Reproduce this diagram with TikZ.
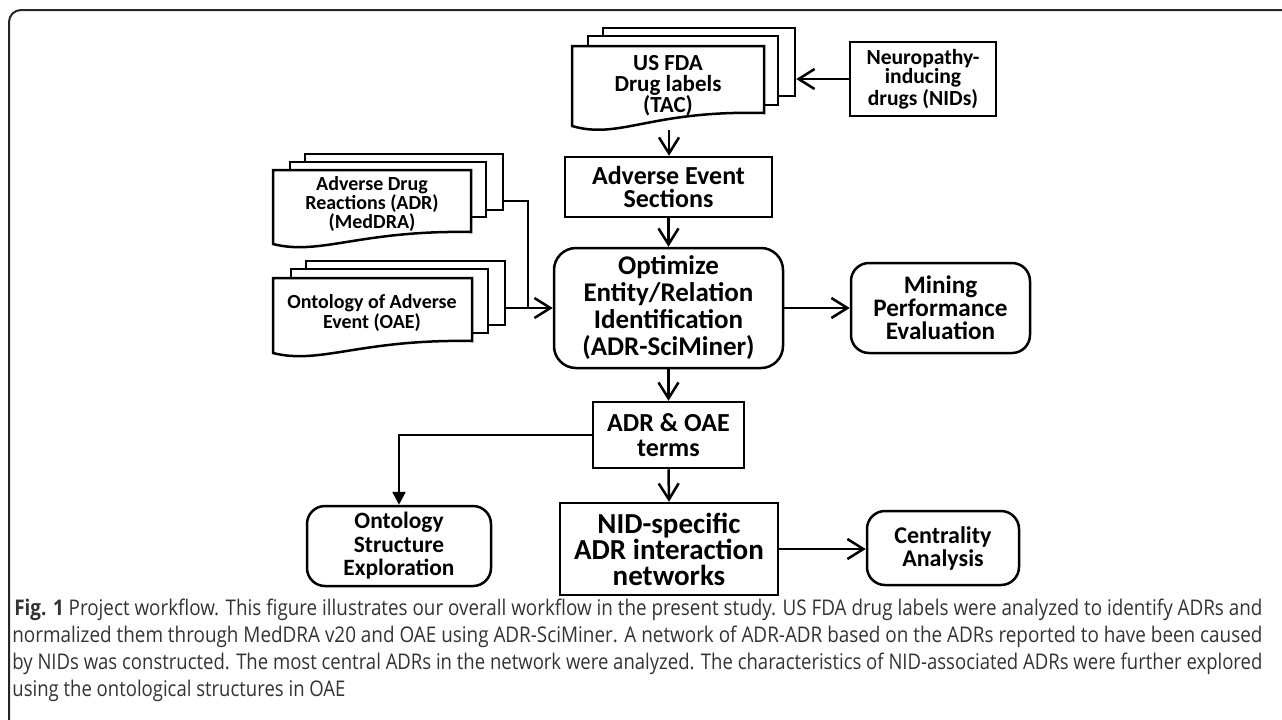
\documentclass[tikz,border=0pt]{standalone}
\usepackage{fontspec}
\setmainfont{Carlito}
\newfontfamily\capfont{Open Sans}[FakeStretch=0.76]
\usepackage{graphicx}
\usetikzlibrary{arrows.meta}
\newsavebox\capbox
\newlength\caplen
\newcommand\capline[2]{\sbox\capbox{#2}\setlength\caplen{\wd\capbox}\xdef\capscale{\fpeval{#1/\caplen}}\scalebox{\capscale}[1]{\usebox\capbox}}
\newcommand\caplinesame[1]{\sbox\capbox{#1}\scalebox{\capscale}[1]{\usebox\capbox}}
\tikzset{
  box/.style={draw, line width=1.25pt, align=center, inner sep=0pt, font=\bfseries},
  rbox/.style={box, rounded corners=9pt},
  sheet/.style={draw, fill=white, line width=1.25pt, inner sep=0pt},
  front/.style={draw, fill=white, line width=1.25pt},
  conn/.style={line width=1.25pt, -{Straight Barb[length=8pt,width=10pt]}},
  link/.style={line width=1.25pt},
  captext/.style={anchor=base west, inner sep=0pt, text=black!80, font=\capfont\fontsize{10.8}{12}\selectfont}
}
\begin{document}
\begin{tikzpicture}[x=0.5pt,y=-0.5pt]
\useasboundingbox (0,0) rectangle (1282,719);
% frame
\draw[line width=1pt, black!85, rounded corners=6pt] (9,740) -- (9,10) -- (1300,10);

% US FDA document stack
\node[sheet, minimum width=96pt, minimum height=34pt] (fda3) at (699,62) {};
\node[sheet, minimum width=95pt, minimum height=34.5pt] (fda2) at (683,70.5) {};
\draw[front] (572,126) -- (572,46) -- (764,46) -- (764,113) .. controls (650,110) and (620,140) .. cycle;
\node[align=center, font=\bfseries\fontsize{11.5}{10.5}\selectfont, inner sep=0pt] (fda) at (668,86) {US FDA\\Drug labels\\(TAC)};
\coordinate (fdab) at (669,130);

% Neuropathy
\node[box, minimum width=73pt, minimum height=37pt, font=\bfseries\fontsize{10.8}{9.6}\selectfont] (neuro) at (923,79) {Neuropathy-\\inducing\\drugs (NIDs)};

% ADR document stack
\node[sheet, minimum width=99pt, minimum height=28pt] (adr3) at (404,182) {};
\node[sheet, minimum width=98pt, minimum height=27.5pt] (adr2) at (388,189.5) {};
\draw[front] (273,244) -- (273,170) -- (471,170) -- (471,232) .. controls (360,230) and (320,256) .. cycle;
\node[align=center, font=\bfseries\fontsize{10}{9.5}\selectfont, inner sep=0pt] (adr) at (372,204) {Adverse Drug\\Reactions (ADR)\\(MedDRA)};

% OAE document stack
\node[sheet, minimum width=99.5pt, minimum height=32pt] (oae3) at (405.5,293) {};
\node[sheet, minimum width=98.5pt, minimum height=32pt] (oae2) at (389.5,301) {};
\draw[front] (273,353) -- (273,278) -- (472,278) -- (472,341) .. controls (360,339) and (320,365) .. cycle;
\node[align=center, font=\bfseries\fontsize{10}{9}\selectfont, inner sep=0pt] (oae) at (372,313) {Ontology of Adverse\\Event (OAE)};

% main boxes
\node[box, minimum width=103.5pt, minimum height=30pt, font=\bfseries\fontsize{13}{11.5}\selectfont] (aes) at (668.5,187) {Adverse Event\\Sections};
\node[rbox, rounded corners=11pt, minimum width=114.5pt, minimum height=60pt, font=\bfseries\fontsize{13.5}{13.5}\selectfont] (opt) at (668.5,308) {Optimize\\Entity/Relation\\Identification\\(ADR-SciMiner)};
\node[rbox, minimum width=89.5pt, minimum height=45pt, font=\bfseries\fontsize{12.6}{11.6}\selectfont] (mining) at (940.5,308) {Mining\\Performance\\Evaluation};
\node[box, minimum width=75.5pt, minimum height=33pt, font=\bfseries\fontsize{13}{12.5}\selectfont] (adroae) at (668.5,435) {ADR \& OAE\\terms};
\node[rbox, minimum width=92pt, minimum height=40pt, font=\bfseries\fontsize{11.7}{11.8}\selectfont] (onto) at (399,546) {Ontology\\Structure\\Exploration};
\node[box, minimum width=109pt, minimum height=46pt, font=\bfseries\fontsize{14.5}{13}\selectfont] (nid) at (669,549) {NID-specific\\ADR interaction\\networks};
\node[rbox, minimum width=76pt, minimum height=37pt, font=\bfseries\fontsize{12}{11.5}\selectfont] (cent) at (943,548) {Centrality\\Analysis};

% connectors
\draw[conn] (neuro.west) -- (neuro.west -| fda3.east);
\draw[conn] (fdab) -- (fdab |- aes.north);
\draw[conn] (aes.south) -- (opt.north);
\coordinate (adrout) at (503,201);
\coordinate (j) at (528,308);
\draw[link] (adrout) -| (j);
\draw[conn] (oae3.east |- opt.west) -- (opt.west);
\draw[conn] (opt.east) -- (mining.west);
\draw[conn] (opt.south) -- (adroae.north);
\draw[link, -{Triangle[length=6.5pt,width=6.5pt]}] (adroae.west) -| (onto.north);
\draw[conn] (adroae.south) -- (nid.north);
\draw[conn] (nid.east) -- (nid.east -| cent.west);

% caption
\node[captext] (c1) at (14,615) {\capline{624}{{\bfseries Fig. 1} Project workflow. This figure illustrates our overall workflow in the present study. US FDA drug labels were analyzed to identify ADRs and}};
\node[captext] (c2) at (12,642) {\capline{625}{normalized them through MedDRA v20 and OAE using ADR-SciMiner. A network of ADR-ADR based on the ADRs reported to have been caused}};
\node[captext] (c3) at (12,669) {\capline{625}{by NIDs was constructed. The most central ADRs in the network were analyzed. The characteristics of NID-associated ADRs were further explored}};
\node[captext] (c4) at (12,696) {\caplinesame{using the ontological structures in OAE}};
\end{tikzpicture}
\end{document}
